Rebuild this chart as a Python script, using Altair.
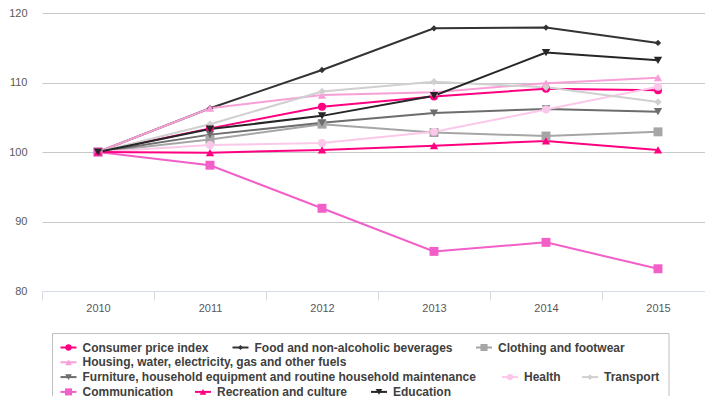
import altair as alt
import pandas as pd

# Index values, 2010 = 100
years = [2010, 2011, 2012, 2013, 2014, 2015]

series = [
    "Consumer price index",
    "Food and non-alcoholic beverages",
    "Clothing and footwear",
    "Housing, water, electricity, gas and other fuels",
    "Furniture, household equipment and routine household maintenance",
    "Health",
    "Transport",
    "Communication",
    "Recreation and culture",
    "Education",
]

cpi = [100, 103.4, 106.5, 108.0, 109.1, 108.9]
food = [100, 106.3, 111.8, 117.8, 117.9, 115.7]
clothing = [100, 101.8, 104.0, 102.8, 102.3, 102.9]
housing = [100, 106.3, 108.2, 108.6, 109.9, 110.7]
furniture = [100, 102.5, 104.2, 105.6, 106.2, 105.8]
health = [100, 101.0, 101.3, 102.9, 106.1, 109.4]
transport = [100, 104.0, 108.7, 110.1, 109.3, 107.2]
communication = [100, 98.1, 91.9, 85.7, 87.0, 83.2]
recreation = [100, 99.9, 100.3, 100.9, 101.6, 100.3]
education = [100, 103.3, 105.2, 108.1, 114.3, 113.2]

values = [cpi, food, clothing, housing, furniture, health, transport,
          communication, recreation, education]

colors = ["#FF0080", "#333333", "#A6A6A6", "#F79FD6", "#6D6D6D",
          "#FCC8EA", "#D0D0D0", "#F25FC8", "#FF0080", "#262626"]
shapes = ["circle", "diamond", "square", "triangle-up", "triangle-down",
          "circle", "diamond", "square", "triangle-up", "triangle-down"]
marker_sizes = [64, 40, 80, 70, 70, 64, 55, 80, 70, 70]
legend_marker_sizes = [40, 26, 50, 45, 45, 40, 32, 50, 45, 45]

# Legend layout (flowing rows inside a framed box under the plot)
legend_row = [0, 0, 0, 1, 2, 2, 2, 3, 3, 3]
legend_left = [18.5, 190.5, 434, 18.5, 18.5, 460, 540, 18.5, 153, 329]

rows = []
for name, vals, size in zip(series, values, marker_sizes):
    for yr, v in zip(years, vals):
        rows.append({"year": yr, "value": v, "series": name, "size": size})
df = pd.DataFrame(rows)

leg = pd.DataFrame({
    "series": series,
    "sx": [l for l in legend_left],
    "sx2": [l + 16 for l in legend_left],
    "mx": [l + 8 for l in legend_left],
    "tx": [l + 22 for l in legend_left],
    "sy": [334.5 + 14.8 * r for r in legend_row],
    "size": legend_marker_sizes,
})

color_scale = alt.Scale(domain=series, range=colors)
shape_scale = alt.Scale(domain=series, range=shapes)

x_enc = alt.X(
    "year:O",
    bandPosition=0.5,
    scale=alt.Scale(type="band", paddingInner=0, paddingOuter=0, range=[0, 672]),
    axis=alt.Axis(
        title=None, labelAngle=0, tickBand="extent", grid=False,
        domainColor="#D5DCE6", tickColor="#D5DCE6", tickSize=9,
        labelPadding=2, labelFontSize=11, labelColor="#595959",
    ),
)
y_enc = alt.Y(
    "value:Q",
    scale=alt.Scale(domain=[80, 120], nice=False, zero=False),
    axis=alt.Axis(
        title=None, values=[80, 90, 100, 110, 120], domain=False,
        ticks=False, tickSize=0, labelPadding=15, labelFontSize=11,
        labelColor="#595959", gridColor="#C8C8C8", gridWidth=1,
    ),
)

base = alt.Chart(df)
lines = base.mark_line(strokeWidth=2).encode(
    x=x_enc, y=y_enc,
    color=alt.Color("series:N", scale=color_scale, legend=None),
)
points = base.mark_point(filled=True, opacity=1).encode(
    x=x_enc, y=y_enc,
    color=alt.Color("series:N", scale=color_scale, legend=None),
    shape=alt.Shape("series:N", scale=shape_scale, legend=None),
    size=alt.Size("size:Q", scale=None),
)
main = alt.layer(lines, points)

# Legend drawn in pixel space below the plot
box = alt.Chart(pd.DataFrame({"k": [0]})).mark_rect(
    fill="white", stroke="#BFBFBF", strokeWidth=1
).encode(
    x=alt.value(10.5), x2=alt.value(627), y=alt.value(320.5), y2=alt.value(430)
)
leg_base = alt.Chart(leg)
leg_lines = leg_base.mark_rule(strokeWidth=2).encode(
    x=alt.X("sx:Q", scale=None, axis=None),
    x2="sx2:Q",
    y=alt.Y("sy:Q", scale=None, axis=None),
    color=alt.Color("series:N", scale=color_scale, legend=None),
)
leg_points = leg_base.mark_point(filled=True, opacity=1).encode(
    x=alt.X("mx:Q", scale=None, axis=None),
    y=alt.Y("sy:Q", scale=None, axis=None),
    color=alt.Color("series:N", scale=color_scale, legend=None),
    shape=alt.Shape("series:N", scale=shape_scale, legend=None),
    size=alt.Size("size:Q", scale=None),
)
leg_text = leg_base.mark_text(
    align="left", baseline="middle", fontSize=12, fontWeight="bold",
    color="#404040", font="Liberation Sans",
).encode(
    x=alt.X("tx:Q", scale=None, axis=None),
    y=alt.Y("sy:Q", scale=None, axis=None),
    text="series:N",
)
legend = alt.layer(box, leg_lines, leg_points, leg_text)

chart = alt.layer(main, legend).resolve_scale(
    x="independent", y="independent"
).properties(
    width=663, height=278,
    autosize=alt.AutoSizeParams(type="none"),
    padding={"left": 42, "top": 13, "right": 0, "bottom": 105},
).configure(
    font="Liberation Sans",
).configure_view(stroke=None)

chart.save("out.html", embed_options={"renderer": "svg", "actions": False})
